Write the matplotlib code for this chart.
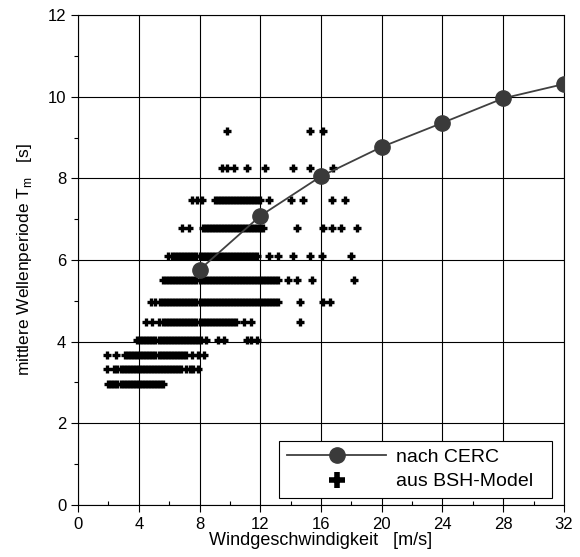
import matplotlib
matplotlib.use('Agg')
import matplotlib.pyplot as plt
from matplotlib.ticker import MultipleLocator

plt.rcParams['font.family'] = ['Liberation Sans', 'DejaVu Sans']

# nach CERC
cerc_x = [8, 12, 16, 20, 24, 28, 32]
cerc_t = [5.76, 7.08, 8.05, 8.77, 9.36, 9.96, 10.31]

# aus BSH-Model: wave period levels and wind speeds per level
bsh_levels = [2.97, 3.32, 3.68, 4.03, 4.49, 4.97, 5.50, 6.10, 6.78, 7.47, 8.26, 9.17]

x_297 = [2.0, 2.2, 2.4, 2.6, 2.8, 3.0, 3.2, 3.4, 3.6, 3.8, 4.0, 4.2, 4.4, 4.6,
         4.8, 5.0, 5.2, 5.4, 5.6]
x_332 = [1.9, 2.4, 2.6, 2.8, 3.0, 3.2, 3.4, 3.6, 3.8, 4.0, 4.2, 4.4, 4.6, 4.8,
         5.0, 5.2, 5.4, 5.6, 5.8, 6.0, 6.2, 6.4, 6.6, 6.8, 7.1, 7.4, 7.6, 7.9]
x_368 = [1.9, 2.5, 3.1, 3.3, 3.5, 3.7, 3.9, 4.1, 4.3, 4.5, 4.7, 4.9, 5.1, 5.3,
         5.5, 5.7, 5.9, 6.1, 6.3, 6.5, 6.7, 6.9, 7.1, 7.5, 7.9, 8.3]
x_403 = [3.9, 4.1, 4.3, 4.5, 4.7, 4.9, 5.1, 5.3, 5.5, 5.7, 5.9, 6.1, 6.3, 6.5,
         6.7, 6.9, 7.1, 7.3, 7.5, 7.7, 7.9, 8.1, 8.4, 9.2, 9.6, 11.1, 11.4, 11.8]
x_449 = [4.5, 4.9, 5.3, 5.6, 5.8, 6.0, 6.2, 6.4, 6.6, 6.8, 7.0, 7.2, 7.4, 7.6,
         7.8, 8.0, 8.2, 8.4, 8.6, 8.8, 9.0, 9.2, 9.4, 9.6, 9.8, 10.0, 10.2, 10.4,
         10.9, 11.4, 14.6]
x_497 = [4.8, 5.1, 5.4, 5.6, 5.8, 6.0, 6.2, 6.4, 6.6, 6.8, 7.0, 7.2, 7.4, 7.6,
         7.8, 8.0, 8.2, 8.4, 8.6, 8.8, 9.0, 9.2, 9.4, 9.6, 9.8, 10.0, 10.2, 10.4,
         10.6, 10.8, 11.0, 11.2, 11.4, 11.6, 11.8, 12.0, 12.2, 12.4, 12.6, 12.8,
         13.0, 13.2, 14.6, 16.1, 16.6]
x_550 = [5.6, 5.8, 6.0, 6.2, 6.4, 6.6, 6.8, 7.0, 7.2, 7.4, 7.6, 7.8, 8.0, 8.2,
         8.4, 8.6, 8.8, 9.0, 9.2, 9.4, 9.6, 9.8, 10.0, 10.2, 10.4, 10.6, 10.8,
         11.0, 11.2, 11.4, 11.6, 11.8, 12.0, 12.2, 12.4, 12.6, 12.8, 13.0, 13.2,
         13.8, 14.4, 15.4, 18.2]
x_610 = [5.9, 6.2, 6.4, 6.6, 6.8, 7.0, 7.2, 7.4, 7.6, 7.8, 8.0, 8.2, 8.4, 8.6,
         8.8, 9.0, 9.2, 9.4, 9.6, 9.8, 10.0, 10.2, 10.4, 10.6, 10.8, 11.0, 11.2,
         11.4, 11.6, 11.8, 12.6, 13.2, 14.15, 15.3, 16.05, 18.0]
x_678 = [6.85, 7.3, 8.2, 8.4, 8.6, 8.8, 9.0, 9.2, 9.4, 9.6, 9.8, 10.0, 10.2,
         10.4, 10.6, 10.8, 11.0, 11.2, 11.4, 11.6, 11.8, 12.0, 12.2, 14.4, 16.1,
         16.7, 17.3, 18.4]
x_747 = [7.5, 7.85, 8.15, 9.0, 9.2, 9.4, 9.6, 9.8, 10.0, 10.2, 10.4, 10.6, 10.8,
         11.0, 11.2, 11.4, 11.6, 11.8, 12.0, 12.6, 14.0, 14.8, 16.7, 17.6]
x_826 = [9.5, 9.8, 10.3, 11.1, 12.3, 14.15, 15.3, 16.8]
x_917 = [9.8, 15.3, 16.1]

bsh_rows = [x_297, x_332, x_368, x_403, x_449, x_497, x_550, x_610, x_678,
            x_747, x_826, x_917]

bsh_x = []
bsh_t = []
for lev, xs in zip(bsh_levels, bsh_rows):
    bsh_x += xs
    bsh_t += [lev] * len(xs)

fig = plt.figure(figsize=(5.8, 5.57), dpi=100)
ax = fig.add_axes([0.1345, 0.0934, 0.8379, 0.8796])

ax.plot(bsh_x, bsh_t, linestyle='none', marker='+', markersize=6.3,
        color='black', markeredgewidth=2.4, label='aus BSH-Model', zorder=3)
ax.plot(cerc_x, cerc_t, color='#404040', linewidth=1.3, marker='o',
        markersize=11, markerfacecolor='#3a3a3a', markeredgecolor='#3a3a3a',
        label='nach CERC', zorder=4)

ax.set_xlim(0, 32)
ax.set_ylim(0, 12)
ax.xaxis.set_major_locator(MultipleLocator(4))
ax.xaxis.set_minor_locator(MultipleLocator(2))
ax.yaxis.set_major_locator(MultipleLocator(2))
ax.yaxis.set_minor_locator(MultipleLocator(1))
ax.grid(which='major', color='black', linewidth=0.8)
ax.set_axisbelow(True)

ax.tick_params(which='major', direction='out', length=5, width=0.8,
               labelsize=12, colors='black')
ax.tick_params(axis='x', which='minor', direction='in', length=3, width=0.8)
ax.tick_params(axis='y', which='minor', direction='out', length=3, width=0.8)
for s in ax.spines.values():
    s.set_linewidth(0.8)

ax.set_xlabel('Windgeschwindigkeit   [m/s]', fontsize=13, labelpad=0)
ax.set_ylabel('mittlere Wellenperiode T$_\\mathregular{m}$   [s]',
              fontsize=12.5, labelpad=10)

handles, labels = ax.get_legend_handles_labels()
leg = ax.legend(handles[::-1], labels[::-1], loc='lower left',
                bbox_to_anchor=(0.414, 0.014, 0.561, 0.143), mode='expand',
                fontsize=14, handlelength=5.1, handletextpad=0.5,
                fancybox=False, framealpha=1, edgecolor='black',
                borderaxespad=0, labelspacing=0.35, borderpad=0.4)
leg.get_frame().set_linewidth(0.8)
leg.legend_handles[1].set_markersize(11)
leg.legend_handles[1].set_markeredgewidth(4)

fig.savefig('out.png', dpi=100)
